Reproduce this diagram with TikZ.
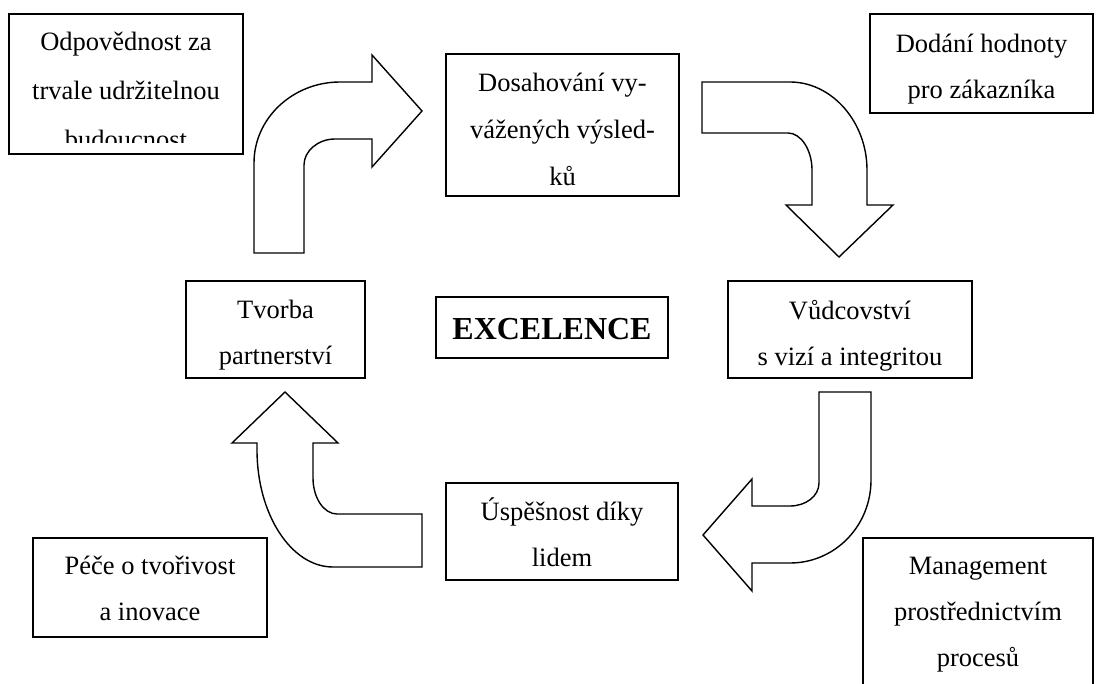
\documentclass[tikz,border=0pt]{standalone}
\usepackage{fontspec}
\setmainfont{Liberation Serif}
\begin{document}
\begin{tikzpicture}[x=1pt,y=-1pt,
  box/.style={draw, line width=1.5pt, inner sep=0pt, fill=white},
  txt/.style={align=center, inner sep=0pt, anchor=north, font=\fontsize{26.5}{46}\selectfont},
  bent/.style={draw, line width=1.4pt, fill=white, line join=miter}]
\clip (0,0) rectangle (1097,684);
\fill[white] (0,0) rectangle (1097,684);

% boxes
\node[box, minimum width=234pt, minimum height=140pt] (resp) at (126,84) {};
\node[box, minimum width=233pt, minimum height=142pt] (results) at (562.5,125) {};
\node[box, minimum width=223pt, minimum height=99pt] (value) at (981.5,63.5) {};
\node[box, minimum width=179pt, minimum height=97pt] (partner) at (275.5,329.5) {};
\node[box, minimum width=232pt, minimum height=61pt] (excel) at (552,327.5) {};
\node[box, minimum width=244pt, minimum height=97pt] (lead) at (850,329.5) {};
\node[box, minimum width=232pt, minimum height=97pt] (people) at (562,531.5) {};
\node[box, minimum width=234pt, minimum height=99pt] (create) at (150,587.5) {};
\node[box, minimum width=230pt, minimum height=182pt] (process) at (978,629) {};

% texts
\begin{scope}
  \clip (9,14) rectangle (243,143);
  \node[txt, font=\fontsize{26.5}{49}\selectfont] (resp-t) at (126,15.7)
    {\strut Odpovědnost za\\\strut trvale udržitelnou\\\strut budoucnost};
\end{scope}
\node[txt, font=\fontsize{26.5}{47}\selectfont] (results-t) at (562.5,58.5)
  {\strut Dosahování vy-\\\strut vážených výsled-\\\strut ků};
\node[txt] (value-t) at (981.5,19.8) {\strut Dodání hodnoty\\\strut pro zákazníka};
\node[txt] (partner-t) at (275.5,285.8) {\strut Tvorba\\\strut partnerství};
\node[txt] (lead-t) at (850,287) {\strut Vůdcovství\\\strut s vizí a integritou};
\node[txt] (people-t) at (562,487.8) {\strut Úspěšnost díky\\\strut lidem};
\node[txt] (create-t) at (150,541.8) {\strut Péče o tvořivost\\\strut a inovace};
\node[txt] (process-t) at (978,541.8)
  {\strut Management\\\strut prostřednictvím\\\strut procesů};
\node[inner sep=0pt, anchor=base, font=\fontsize{32}{38}\selectfont\bfseries] (excel-t)
  at (552,339) {EXCELENCE};

% bent block arrows
\draw[bent] (254,253) -- (254,163) .. controls (254,118) and (293,82) .. (340,82)
  -- (372,82) -- (372,55) -- (422,111) -- (372,167) -- (372,139) -- (335,139)
  .. controls (318,139) and (304,151) .. (304,165) -- (304,253) -- cycle;
\draw[bent] (702,82) -- (790,82) .. controls (832,82) and (867,122) .. (867,170)
  -- (867,205) -- (893,205) -- (839,257) -- (786,205) -- (812,205) -- (812,170)
  .. controls (812,150) and (801,133) .. (788,133) -- (702,133) -- cycle;
\draw[bent] (819,392) -- (819,483) .. controls (819,496) and (806,506) .. (790,506)
  -- (752,506) -- (752,479) -- (703,535) -- (752,591) -- (752,563) -- (790,563)
  .. controls (835,563) and (871,526) .. (871,480) -- (871,392) -- cycle;
\draw[bent] (285,392) -- (338,443) -- (313,443) -- (313,478)
  .. controls (313,498) and (324,514) .. (337,514) -- (422,514) -- (422,567)
  -- (333,567) .. controls (291,567) and (257,514) .. (257,450) -- (257,443)
  -- (232,443) -- cycle;
\end{tikzpicture}
\end{document}
